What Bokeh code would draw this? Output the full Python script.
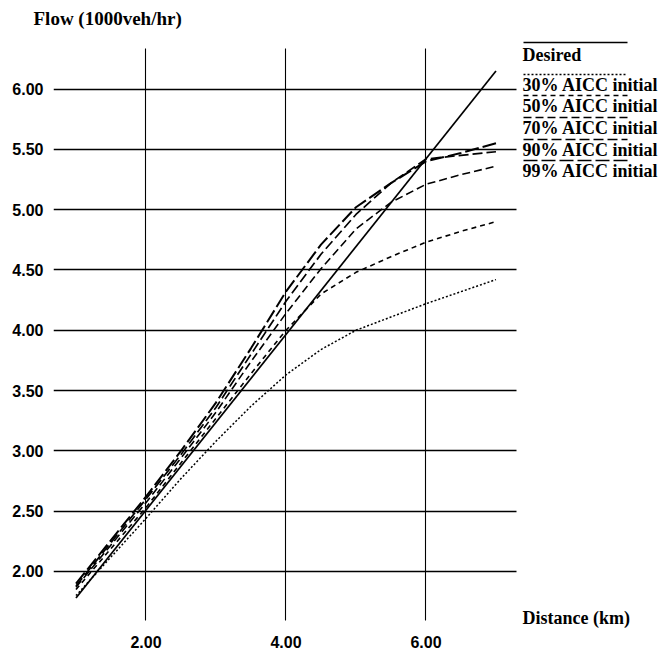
from bokeh.plotting import figure
from bokeh.models import Range1d, FixedTicker, NumeralTickFormatter
from bokeh.embed import file_html
from bokeh.resources import INLINE
from bokeh.core.properties import value

# ---------------- data ----------------
distance = [1.0, 1.5, 2.0, 2.5, 3.0, 3.5, 4.0, 4.5, 5.0, 5.5, 6.0, 6.5, 7.0]
desired_x = [1.0, 7.0]
desired = [1.78, 6.15]
aicc30 = [1.80, 2.12, 2.44, 2.77, 3.08, 3.37, 3.63, 3.84, 4.00, 4.11, 4.22, 4.32, 4.42]
aicc50 = [1.85, 2.19, 2.53, 2.90, 3.27, 3.64, 4.00, 4.30, 4.48, 4.61, 4.73, 4.82, 4.90]
aicc70 = [1.87, 2.22, 2.57, 2.94, 3.32, 3.74, 4.14, 4.51, 4.84, 5.06, 5.21, 5.29, 5.36]
aicc90 = [1.88, 2.24, 2.60, 2.97, 3.36, 3.80, 4.24, 4.63, 4.96, 5.22, 5.42, 5.45, 5.48]
aicc99 = [1.90, 2.26, 2.62, 3.00, 3.40, 3.85, 4.32, 4.71, 5.02, 5.22, 5.40, 5.47, 5.55]

x_ticks = [2.0, 4.0, 6.0]
y_ticks = [2.0, 2.5, 3.0, 3.5, 4.0, 4.5, 5.0, 5.5, 6.0]

legend_labels = ["Desired", "30% AICC initial", "50% AICC initial",
                 "70% AICC initial", "90% AICC initial", "99% AICC initial"]
x_title = "Distance (km)"
y_title = "Flow (1000veh/hr)"

SERIF = "Liberation Serif"
SANS = "Liberation Sans"

# styles per series (desired, 30, 50, 70, 90, 99)
dashes = ["solid", "2 2", "5 4", "8 4", "10 4", "14 4"]
widths = [1.7, 1.5, 1.6, 1.6, 1.7, 2.0]

# visible grid area (data units)
X_LO, X_HI = 0.679, 7.29
Y_LO, Y_HI = 1.594, 6.336

# ---------------- figure ----------------
# frame: x 53..659 px, y 30..628 px  (70 px / km, 120.6 px / 1000veh/hr)
p = figure(width=659, height=650,
           x_range=Range1d(X_LO, X_LO + 606 / 70.0),
           y_range=Range1d(2.0 - 57 / 120.6, 6.0 + 58.5 / 120.6),
           output_backend="svg", toolbar_location=None,
           min_border_left=53, min_border_right=0,
           min_border_top=30, min_border_bottom=22)
p.extra_x_ranges = {"px": Range1d(53, 659)}
p.extra_y_ranges = {"px": Range1d(628, 30)}
p.outline_line_color = None
p.background_fill_color = "white"
p.border_fill_color = "white"

p.title.text = y_title
p.title.align = "left"
p.title.offset = -20
p.title.standoff = 4
p.title.text_font = SERIF
p.title.text_font_style = "bold"
p.title.text_font_size = "19px"
p.title.text_color = "black"

p.xaxis.ticker = FixedTicker(ticks=x_ticks)
p.yaxis.ticker = FixedTicker(ticks=y_ticks)
for ax in (p.xaxis[0], p.yaxis[0]):
    ax.formatter = NumeralTickFormatter(format="0.00")
    ax.axis_line_color = None
    ax.major_tick_line_color = None
    ax.minor_tick_line_color = None
    ax.major_tick_out = 0
    ax.major_tick_in = 0
    ax.major_label_text_font = SANS
    ax.major_label_text_font_style = "bold"
    ax.major_label_text_font_size = "16px"
    ax.major_label_text_color = "black"
p.yaxis.major_label_standoff = 10
p.xaxis.major_label_standoff = 7

p.xgrid.grid_line_color = "black"
p.xgrid.grid_line_width = 1.1
p.xgrid.cross_bounds = (Y_LO, Y_HI)
p.ygrid.grid_line_color = "black"
p.ygrid.grid_line_width = 1.7
p.ygrid.cross_bounds = (X_LO, X_HI)

series = [aicc30, aicc50, aicc70, aicc90, aicc99]
p.line(desired_x, desired, line_color="black", line_width=widths[0])
for ys, d, w in zip(series, dashes[1:], widths[1:]):
    p.line(distance, ys, line_color="black", line_width=w, line_dash=d)

# ---------------- legend (pixel-like extra ranges) ----------------
text_y = [54, 84, 105, 127, 149, 170]
line_off = [12, 10, 10, 10, 10, 10]
for i, lab in enumerate(legend_labels):
    ly = text_y[i] - line_off[i]
    p.line([523, 627], [ly, ly], line_color="black", line_width=1.4, line_dash=dashes[i],
           x_range_name="px", y_range_name="px")
p.text(x=[522] * len(legend_labels), y=text_y, text=legend_labels,
       text_baseline="middle", text_align="left",
       text_font=value(SERIF), text_font_style="bold",
       text_font_size="18px", text_color="black",
       x_range_name="px", y_range_name="px")
p.text(x=[522], y=[617], text=[x_title], text_baseline="middle", text_align="left",
       text_font=value(SERIF), text_font_style="bold",
       text_font_size="18px", text_color="black",
       x_range_name="px", y_range_name="px")

open("out.html", "w").write(file_html(p, INLINE))
